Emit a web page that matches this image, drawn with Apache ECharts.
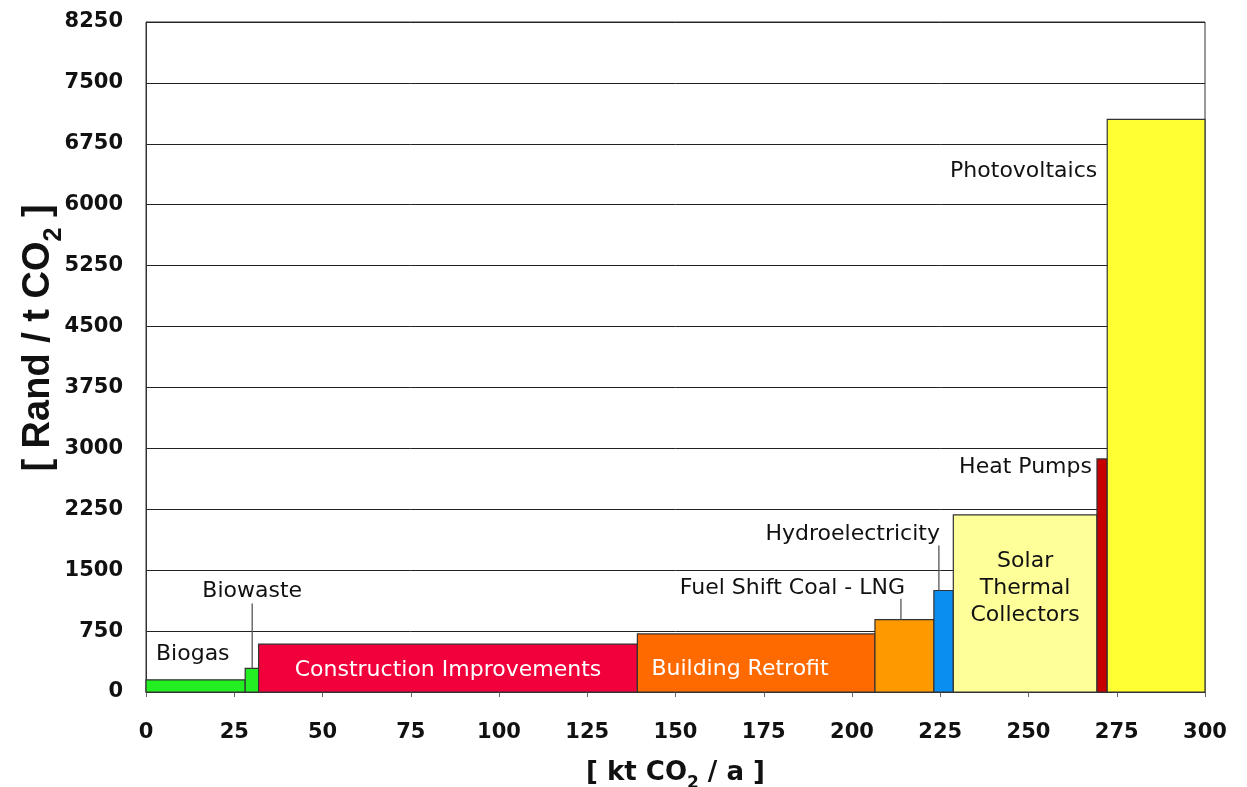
<!DOCTYPE html>
<html>
<head>
<meta charset="utf-8">
<script src="https://cdn.jsdelivr.net/npm/echarts@6/dist/echarts.min.js"></script>
<style>
  html, body { margin: 0; padding: 0; background: #fff; }
  #chart { width: 1247px; height: 787px; }
</style>
</head>
<body>
<div id="chart"></div>
<script>
// measures (abatement cost curve)
var names = ["Biogas", "Biowaste", "Construction Improvements", "Building Retrofit",
  "Fuel Shift Coal - LNG", "Hydroelectricity", "Solar\nThermal\nCollectors", "Heat Pumps", "Photovoltaics"];
// cumulative abatement, kt CO2 / a
var starts = [0, 28.1, 31.9, 139.2, 206.5, 223.2, 228.7, 269.4, 272.3];
var ends = [28.1, 31.9, 139.2, 206.5, 223.2, 228.7, 269.4, 272.3, 300];
// cost, Rand / t CO2
var costs = [150, 290, 590, 715, 890, 1250, 2180, 2870, 7050];
var xTicks = [0, 25, 50, 75, 100, 125, 150, 175, 200, 225, 250, 275, 300];
var yTicks = [0, 750, 1500, 2250, 3000, 3750, 4500, 5250, 6000, 6750, 7500, 8250];

// colours
var colors = ["#22ee22", "#22ee22", "#f2003c", "#ff6a00", "#ff9900", "#0a8ef0", "#ffff99", "#c80000", "#ffff33"];

var myChart = echarts.init(document.getElementById("chart"));

var seriesData = names.map(function (n, i) {
  return [starts[i], ends[i], costs[i], i];
});

var labelFont = "DejaVu Sans";

function labelFor(i, r) {
  // r = bar rectangle in pixels
  var out = [];
  var txt = function (x, y, align, color, extra) {
    var st = {
      text: names[i], x: x, y: y, align: align, verticalAlign: "middle",
      fill: color, fontFamily: labelFont, fontSize: 22
    };
    if (extra) for (var k in extra) st[k] = extra[k];
    return { type: "text", style: st, z2: 10 };
  };
  var leader = function (x, y1, y2) {
    return { type: "line", shape: { x1: x, y1: y1, x2: x, y2: y2 }, style: { stroke: "#555", lineWidth: 1.3 }, z2: 10 };
  };
  switch (i) {
    case 0:
      out.push(txt(r.x + 10, r.y - 26, "left", "#111"));
      break;
    case 1:
      out.push(txt(r.x + 7, r.y - 77, "center", "#111"));
      out.push(leader(r.x + 7, r.y - 65, r.y));
      break;
    case 2:
      out.push(txt(r.x + r.width / 2, r.y + r.height / 2 + 2, "center", "#fff"));
      break;
    case 3:
      out.push(txt(r.x + 14, r.y + r.height / 2 + 6, "left", "#fff"));
      break;
    case 4:
      out.push(txt(r.x + 30, r.y - 31, "right", "#111"));
      out.push(leader(r.x + 26, r.y - 21, r.y));
      break;
    case 5:
      out.push(txt(r.x + 6, r.y - 56, "right", "#111"));
      out.push(leader(r.x + 5, r.y - 45, r.y));
      break;
    case 6:
      out.push(txt(r.x + r.width / 2, r.y + 73, "center", "#111", { lineHeight: 27 }));
      break;
    case 7:
      out.push(txt(r.x - 5, r.y + 8, "right", "#111", { backgroundColor: "#fff" }));
      break;
    case 8:
      out.push(txt(r.x - 10, r.y + 52, "right", "#111", { backgroundColor: "#fff" }));
      break;
  }
  return out;
}

var option = {
  backgroundColor: "#fff",
  animation: false,
  grid: {
    left: 146, right: 42, top: 22, bottom: 95,
    outerBoundsMode: "none",
    show: true, borderColor: "#333", borderWidth: 1
  },
  xAxis: {
    type: "value",
    min: xTicks[0], max: xTicks[xTicks.length - 1], interval: 25,
    name: "{a|[ kt CO}{s|2}{a| / a ]}",
    nameLocation: "middle", nameGap: 68,
    nameTextStyle: {
      rich: {
        a: { fontFamily: "DejaVu Sans", fontWeight: "bold", fontSize: 26, color: "#111", verticalAlign: "bottom" },
        s: { fontFamily: "DejaVu Sans", fontWeight: "bold", fontSize: 17, color: "#111", verticalAlign: "bottom", padding: [0, 0, -6, 0] }
      }
    },
    axisLine: { show: true, lineStyle: { color: "#333" } },
    axisTick: { show: true, length: 5, lineStyle: { color: "#666" } },
    axisLabel: { margin: 30, fontFamily: "DejaVu Sans", fontWeight: "bold", fontSize: 21, color: "#111" },
    splitLine: { show: false }
  },
  yAxis: {
    type: "value",
    min: yTicks[0], max: yTicks[yTicks.length - 1], interval: 750,
    name: "{a|[ Rand / t CO}{s|2}{a| ]}",
    nameLocation: "middle", nameGap: 88, nameRotate: 90,
    nameMoveOverlap: false,
    nameTextStyle: {
      padding: [0, 0, 0, 38],
      rich: {
        a: { fontFamily: "Liberation Sans", fontWeight: "bold", fontSize: 38, color: "#111", verticalAlign: "bottom" },
        s: { fontFamily: "Liberation Sans", fontWeight: "bold", fontSize: 25, color: "#111", verticalAlign: "bottom", padding: [0, 0, -9, 0] }
      }
    },
    axisLine: { show: true, lineStyle: { color: "#333" } },
    axisTick: { show: false },
    axisLabel: {
      margin: 23, fontFamily: "DejaVu Sans", fontWeight: "bold", fontSize: 21, color: "#111",
      formatter: function (v) { return String(v); }
    },
    splitLine: { show: true, lineStyle: { color: "#222", width: 1 } }
  },
  series: [{
    type: "custom",
    data: seriesData,
    encode: { x: [0, 1], y: 2 },
    renderItem: function (params, api) {
      var i = api.value(3);
      var p0 = api.coord([api.value(0), api.value(2)]);
      var p1 = api.coord([api.value(1), 0]);
      var r = { x: p0[0], y: p0[1], width: p1[0] - p0[0], height: p1[1] - p0[1] };
      var children = [{
        type: "rect", shape: r,
        style: { fill: colors[i], stroke: "#333", lineWidth: 1.2 }
      }];
      return { type: "group", children: children.concat(labelFor(i, r)) };
    }
  }]
};

myChart.setOption(option);
</script>
</body>
</html>
